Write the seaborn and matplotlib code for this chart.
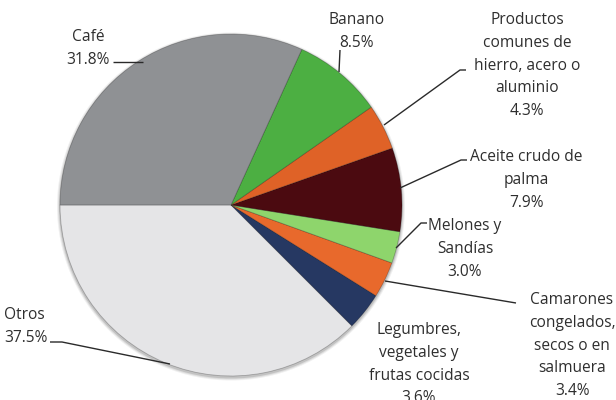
import matplotlib
matplotlib.use("Agg")
import matplotlib.pyplot as plt
import seaborn as sns

sns.set_theme(style="white")
plt.rcParams['font.family'] = ['Open Sans', 'DejaVu Sans']

# Data (counterclockwise from the left horizontal)
categories = ["Otros", "Legumbres, vegetales y frutas cocidas", "Camarones congelados, secos o en salmuera",
              "Melones y Sandías", "Aceite crudo de palma", "Productos comunes de hierro, acero o aluminio",
              "Banano", "Café"]
values = [37.5, 3.6, 3.4, 3.0, 7.9, 4.3, 8.5, 31.8]
label_texts = ["Otros\n37.5%", "Legumbres,\nvegetales y\nfrutas cocidas\n3.6%",
               "Camarones\ncongelados,\nsecos o en\nsalmuera\n3.4%",
               "Melones y\nSandías\n3.0%", "Aceite crudo de\npalma\n7.9%",
               "Productos\ncomunes de\nhierro, acero o\naluminio\n4.3%",
               "Banano\n8.5%", "Café\n31.8%"]
colors = ["#e5e5e7", "#263862", "#e8692c", "#8ed56c", "#4b0a10", "#df6227", "#4caf42", "#8f9194"]

W, H = 616, 400
fig = plt.figure(figsize=(W / 100, H / 100), dpi=100)
ax = fig.add_axes([0, 0, 1, 1])

def Y(y):
    return H - y

cx, cy, r = 231, 205, 171

# soft shadow rim
for dr, a in [(3.0, 0.06), (2.0, 0.08), (1.0, 0.12)]:
    ax.add_patch(plt.Circle((cx, Y(cy) - 1.5), r + dr, color="#000000", alpha=a, lw=0))

ax.pie(values, colors=colors, startangle=180, counterclock=True,
       center=(cx, Y(cy)), radius=r, frame=True,
       wedgeprops=dict(linewidth=0.6, edgecolor=(0, 0, 0, 0.25)))
ax.set_xlim(0, W)
ax.set_ylim(0, H)
ax.set_aspect("equal")
ax.axis("off")

txt_color = "#2e2e2e"
fs = 11.2
dy = 22.8

# label positions: (x, y of first line center, alignment) in pixel coords
pos = {
    "Otros": (4, 315, "left"),
    "Legumbres, vegetales y frutas cocidas": (419, 330, "center"),
    "Camarones congelados, secos o en salmuera": (572, 300, "center"),
    "Melones y Sandías": (465, 226, "center"),
    "Aceite crudo de palma": (526, 157, "center"),
    "Productos comunes de hierro, acero o aluminio": (527, 20, "center"),
    "Banano": (357, 20, "center"),
    "Café": (88, 37, "center"),
}
for cat, lab in zip(categories, label_texts):
    x, y0, ha = pos[cat]
    for i, line in enumerate(lab.split("\n")):
        ax.text(x, Y(y0 + i * dy), line, ha=ha, va="center", fontsize=fs, color=txt_color)

# leader lines (pixel coords)
leaders = [
    [(113, 62), (143, 62)],
    [(340, 50), (339, 72)],
    [(466, 70), (460, 70), (384, 125)],
    [(467, 160), (461, 160), (400, 188)],
    [(427, 223), (421, 223), (396, 248)],
    [(516, 303), (385, 281)],
    [(50, 342), (62, 342), (170, 364)],
]
for pts in leaders:
    ax.plot([p[0] for p in pts], [Y(p[1]) for p in pts], color="#2a2a2a", lw=1.0,
            solid_capstyle="butt")

fig.savefig("out.png", dpi=100)
